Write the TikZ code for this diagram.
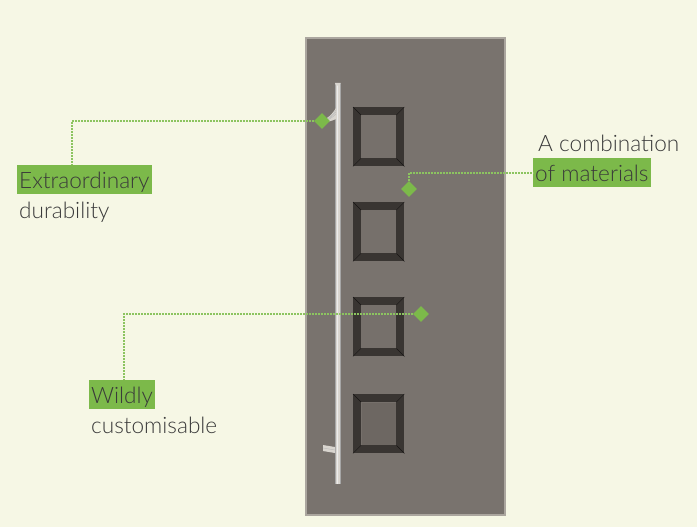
\documentclass[tikz,border=0pt]{standalone}
\usepackage{fontspec}
\setmainfont{Lato}[UprightFont=* Light]
\usetikzlibrary{shapes.geometric,calc}
\definecolor{bg}{HTML}{F6F7E5}
\definecolor{doorc}{HTML}{79736E}
\definecolor{doorb}{HTML}{ABA69F}
\definecolor{framec}{HTML}{393532}
\definecolor{innerc}{HTML}{76706B}
\definecolor{leaf}{HTML}{7CB94A}
\definecolor{dotc}{HTML}{8CC460}
\definecolor{txt}{HTML}{3A3A3A}
\definecolor{handlec}{HTML}{D9D5CF}
\tikzset{
  labelbox/.style={fill=leaf, text=txt, inner xsep=2pt, inner ysep=0pt, text height=20pt, text depth=3pt, minimum height=29pt, anchor=north west, font=\fontsize{22.6}{27}\selectfont},
  plaintext/.style={text=txt, inner xsep=2pt, inner ysep=0pt, text height=17pt, text depth=5pt, anchor=north west, font=\fontsize{22.6}{27}\selectfont},
  marker/.style={diamond, fill=leaf, inner sep=0pt, minimum width=16pt, minimum height=16pt},
  leader/.style={dotc, line width=1.6pt, dash pattern=on 1.6pt off 1.4pt},
  winframe/.style={fill=framec},
  winpane/.style={fill=innerc}
}
\begin{document}
\begin{tikzpicture}[x=1pt,y=-1pt]
\fill[bg] (0,0) rectangle (697,527);
\useasboundingbox (0,0) rectangle (697,527);
% door
\node[draw=doorb, line width=2pt, fill=doorc, minimum width=199pt, minimum height=477pt, inner sep=0pt, anchor=north west] (door) at (305,37) {};
% windows
\foreach \y/\n in {107/w1,202/w2,297/w3,394/w4}{
  \node[winframe, minimum width=51pt, minimum height=59pt, inner sep=0pt, anchor=north west] (\n) at (353,\y) {};
  \node[winpane, minimum width=35pt, minimum height=43pt, inner sep=0pt] at (\n.center) {};
  \draw[black!60!framec, line width=0.4pt] (\n.north west) -- ++(8,8) (\n.north east) -- ++(-8,8) (\n.south west) -- ++(8,-8) (\n.south east) -- ++(-8,-8);
}
\fill[innerc!92!black] ($(w4.center)+(-17,-21)$) rectangle ($(w4.center)+(17,21)$);
% handle
\fill[handlec] (335,83) rectangle (340.5,484);
\draw[white!85!gray, line width=0.5pt] (337.5,83) -- (337.5,484);
\draw[gray!70, line width=0.4pt] (335,83) -- (335,484) (340.5,83) -- (340.5,484);
\fill[handlec] (335,83) arc (180:0:2.75) -- cycle;
\fill[handlec] (336,108) .. controls (333,113) and (330,116) .. (327,118) -- (327,122) .. controls (331,121) and (334,120) .. (336,119) -- cycle;
\foreach \d in {0,2,4}{
  \draw[gray!55, line width=0.35pt] (336,110+\d) .. controls (333,115+\d*0.6) and (330,117+\d*0.3) .. (327,119+\d*0.5);
}
\fill[handlec] (323,445) -- (335,447) -- (335,453) -- (323,451) -- cycle;
\draw[gray!60, line width=0.3pt] (323,448) -- (335,450);
% markers
\node[marker] (d1) at (322,121) {};
\node[marker] (d2) at (409,189) {};
\node[marker] (d3) at (421,314) {};
% labels
\node[labelbox] (ext) at (17,165) {Extraordinary};
\node[plaintext] (dur) at (17,201) {durability};
\node[labelbox] (mat) at (533,158) {of materials};
\node[plaintext] (comb) at (536,134) {A combination};
\node[labelbox] (wild) at (89,380) {Wildly};
\node[plaintext] (cust) at (89,416) {customisable};
% leaders
\coordinate (c1) at (72,165);
\coordinate (c3) at (124,380);
\draw[leader] (d1.west) -| (c1);
\draw[leader] (d2.north) |- (mat.west);
\draw[leader] (d3.west) -| (c3);
\end{tikzpicture}
\end{document}
